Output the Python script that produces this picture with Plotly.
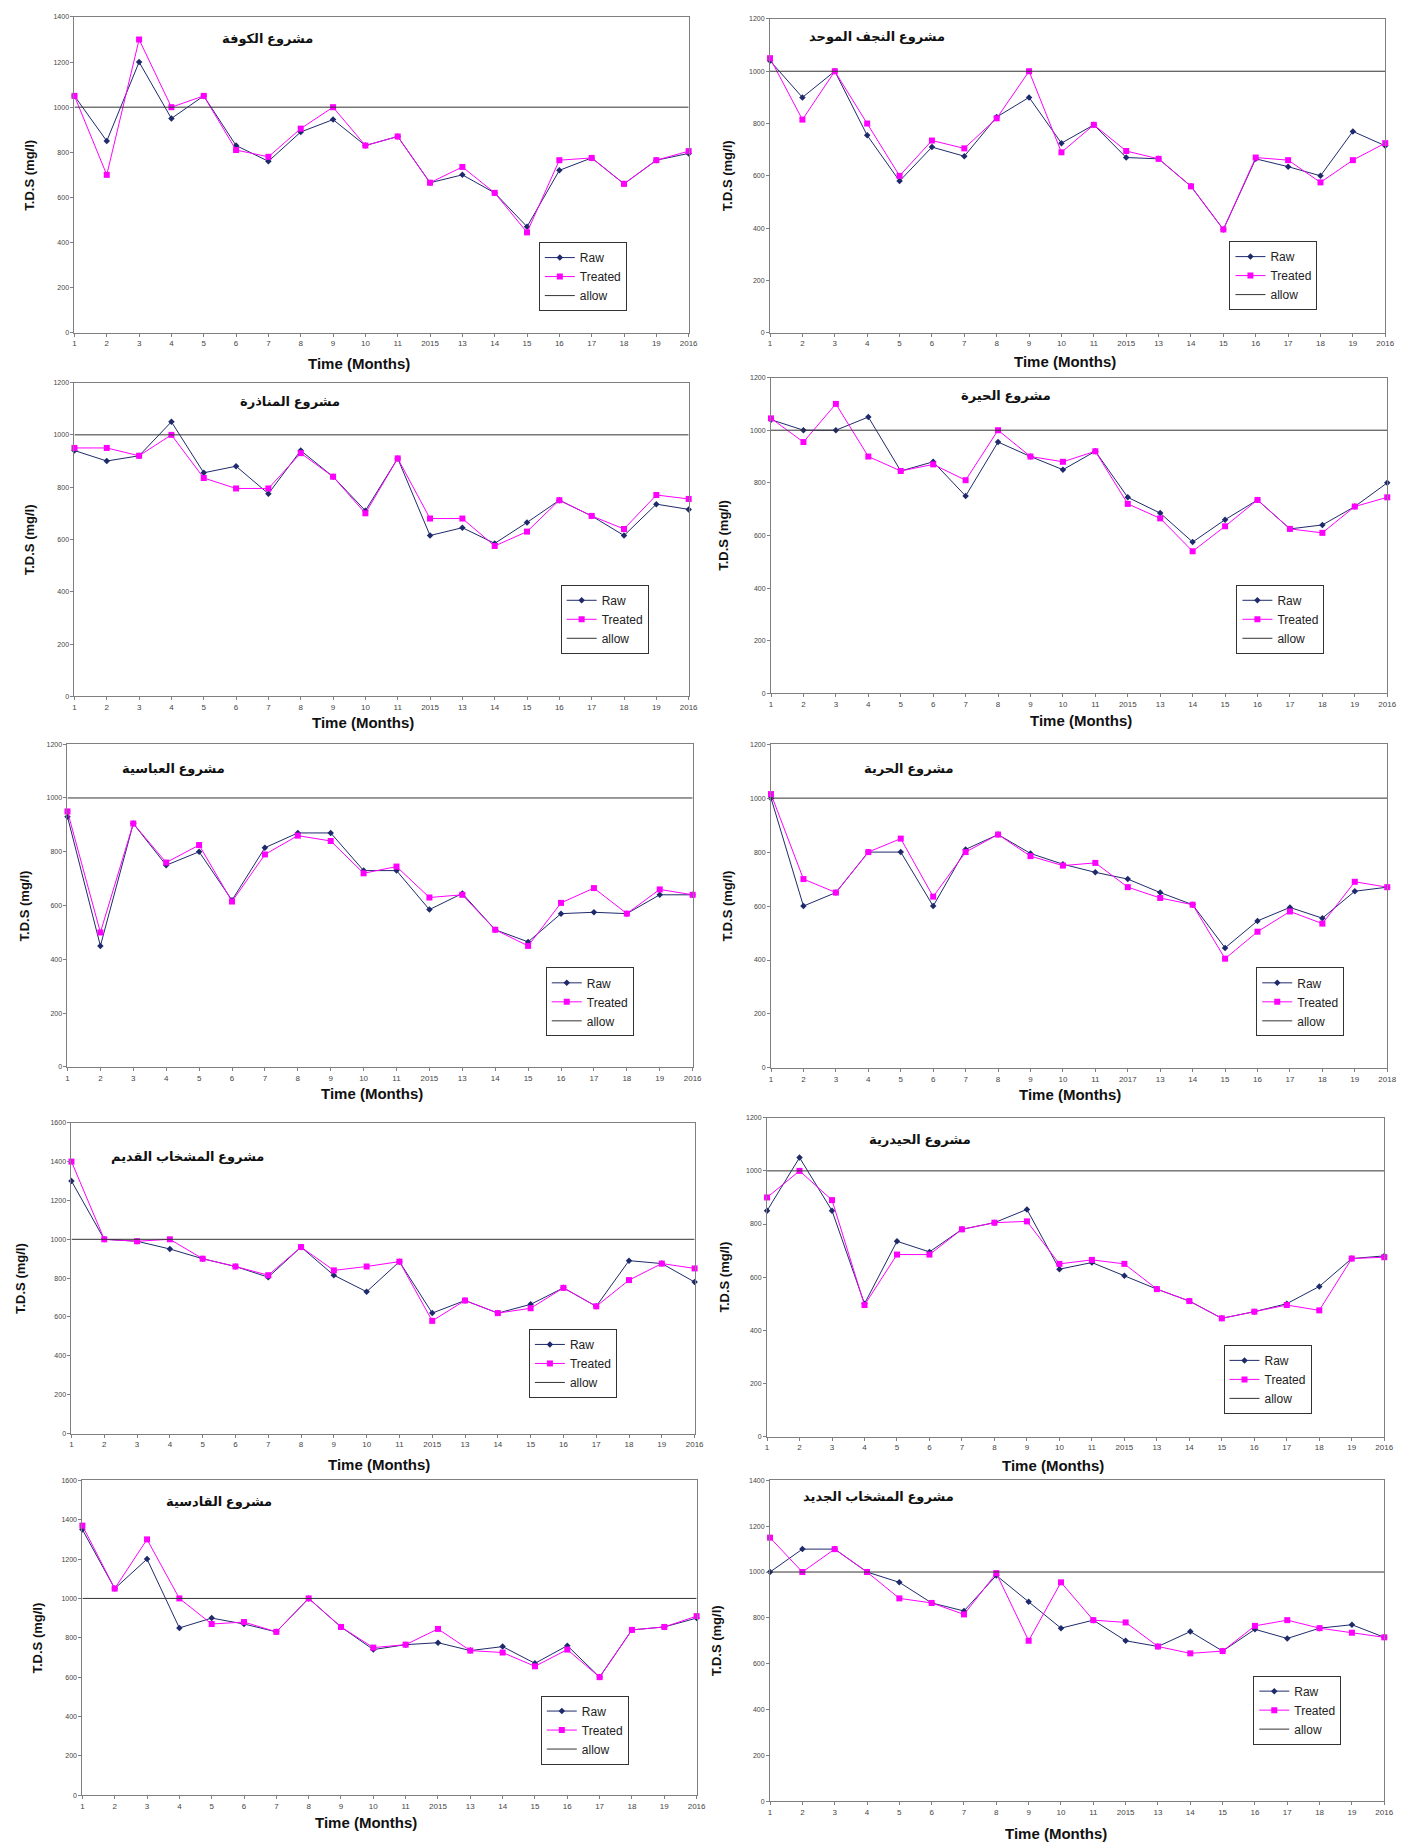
import plotly.graph_objects as go

W, H = 1426, 1844

months = list(range(1, 21))
tick_labels = ["1", "2", "3", "4", "5", "6", "7", "8", "9", "10", "11", "2015",
               "13", "14", "15", "16", "17", "18", "19", "2016"]
tick_labels_hurriya = ["1", "2", "3", "4", "5", "6", "7", "8", "9", "10", "11", "2017",
                       "13", "14", "15", "16", "17", "18", "19", "2018"]
allow_limit = 1000

titles = ["مشروع الكوفة", "مشروع النجف الموحد", "مشروع المناذرة", "مشروع الحيرة",
          "مشروع العباسية", "مشروع الحرية", "مشروع المشخاب القديم", "مشروع الحيدرية",
          "مشروع القادسية", "مشروع المشخاب الجديد"]

kufa_raw = [1050, 850, 1200, 950, 1050, 830, 760, 890, 945, 830, 870, 665, 700, 620, 470, 720, 775, 660, 765, 795]
kufa_treated = [1050, 700, 1300, 1000, 1050, 810, 780, 905, 1000, 830, 870, 665, 735, 620, 445, 765, 775, 660, 765, 805]

najaf_raw = [1040, 900, 1000, 755, 580, 710, 675, 825, 900, 725, 795, 670, 665, 560, 395, 665, 635, 600, 770, 715]
najaf_treated = [1050, 815, 1000, 800, 600, 735, 705, 820, 1000, 690, 795, 695, 665, 560, 395, 670, 660, 575, 660, 725]

manathira_raw = [940, 900, 920, 1050, 855, 880, 775, 940, 840, 710, 910, 615, 645, 585, 665, 750, 690, 615, 735, 715]
manathira_treated = [950, 950, 920, 1000, 835, 795, 795, 930, 840, 700, 910, 680, 680, 575, 630, 750, 690, 640, 770, 755]

hira_raw = [1040, 1000, 1000, 1050, 845, 880, 750, 955, 900, 850, 920, 745, 685, 575, 660, 735, 625, 640, 710, 800]
hira_treated = [1045, 955, 1100, 900, 845, 870, 810, 1000, 900, 880, 920, 720, 665, 540, 635, 735, 625, 610, 710, 745]

abbasiya_raw = [930, 450, 905, 750, 800, 620, 815, 870, 870, 730, 730, 585, 645, 510, 465, 570, 575, 570, 640, 640]
abbasiya_treated = [950, 500, 905, 760, 825, 615, 790, 860, 840, 720, 745, 630, 640, 510, 450, 610, 665, 570, 660, 640]

hurriya_raw = [1000, 600, 650, 800, 800, 600, 810, 865, 795, 755, 725, 700, 650, 605, 445, 545, 595, 555, 655, 670]
hurriya_treated = [1015, 700, 650, 800, 850, 635, 800, 865, 785, 750, 760, 670, 630, 605, 405, 505, 580, 535, 690, 670]

old_mishkhab_raw = [1300, 1000, 990, 950, 900, 860, 805, 960, 815, 730, 885, 620, 685, 620, 665, 750, 655, 890, 875, 780]
old_mishkhab_treated = [1400, 1000, 990, 1000, 900, 860, 815, 960, 840, 860, 885, 580, 685, 620, 645, 750, 655, 790, 875, 850]

haidariya_raw = [850, 1050, 850, 500, 735, 695, 780, 805, 855, 630, 655, 605, 555, 510, 445, 470, 500, 565, 670, 680]
haidariya_treated = [900, 1000, 890, 495, 685, 685, 780, 805, 810, 650, 665, 650, 555, 510, 445, 470, 495, 475, 670, 675]

qadisiya_raw = [1350, 1050, 1200, 850, 900, 870, 830, 1000, 855, 740, 765, 775, 735, 755, 670, 760, 600, 840, 855, 900]
qadisiya_treated = [1370, 1050, 1300, 1000, 870, 880, 830, 1000, 855, 750, 765, 845, 735, 725, 655, 740, 600, 840, 855, 910]

new_mishkhab_raw = [1000, 1100, 1100, 1000, 955, 865, 830, 985, 870, 755, 790, 700, 675, 740, 655, 750, 710, 755, 770, 715]
new_mishkhab_treated = [1150, 1000, 1100, 1000, 885, 865, 815, 995, 700, 955, 790, 780, 675, 645, 655, 765, 790, 755, 735, 715]

y_max = [1400, 1200, 1200, 1200, 1200, 1200, 1600, 1200, 1600, 1400]

series = [
    (kufa_raw, kufa_treated, tick_labels),
    (najaf_raw, najaf_treated, tick_labels),
    (manathira_raw, manathira_treated, tick_labels),
    (hira_raw, hira_treated, tick_labels),
    (abbasiya_raw, abbasiya_treated, tick_labels),
    (hurriya_raw, hurriya_treated, tick_labels_hurriya),
    (old_mishkhab_raw, old_mishkhab_treated, tick_labels),
    (haidariya_raw, haidariya_treated, tick_labels),
    (qadisiya_raw, qadisiya_treated, tick_labels),
    (new_mishkhab_raw, new_mishkhab_treated, tick_labels),
]

# layout (pixel boxes: left, top, right, bottom)
boxes = [
    (73, 13, 692, 330), (774, 15, 1394, 330),
    (73, 380, 692, 695), (775, 375, 1396, 692),
    (66, 743, 696, 1067), (775, 743, 1396, 1068),
    (70, 1123, 698, 1435), (771, 1118, 1393, 1438),
    (81, 1482, 700, 1798), (774, 1482, 1393, 1804),
]
title_pos = [(268, 35), (882, 33), (290, 399), (1012, 393), (173, 767),
             (914, 767), (187, 1157), (925, 1140), (219, 1503), (883, 1498)]
legend_pos = [(541, 239), (1237, 238), (563, 583), (1244, 583), (548, 967),
              (1264, 967), (531, 1330), (1231, 1346), (543, 1698), (1261, 1678)]
ytitle_x = [28, 731, 28, 727, 23, 731, 18, 728, 36, 720]
xtitle_pos = [(360, 361), (1071, 359), (364, 721), (1087, 719), (373, 1094),
              (1076, 1095), (380, 1466), (1059, 1467), (367, 1825), (1062, 1836)]

RAW_C = "#1F2A6B"
TRE_C = "#FF00FF"
FONT = "Arial, Liberation Sans, DejaVu Sans, sans-serif"

fig = go.Figure()
annotations = []
layout_axes = {}

for i, (raw, treated, ticks) in enumerate(series):
    s = "" if i == 0 else str(i + 1)
    xa, ya = "x" + s, "y" + s
    lg = "legend" + s
    fig.add_trace(go.Scatter(x=months, y=raw, name="Raw", mode="lines+markers",
                             line=dict(color=RAW_C, width=1),
                             marker=dict(symbol="diamond", size=5, color=RAW_C),
                             xaxis=xa, yaxis=ya, legend=lg, cliponaxis=False))
    fig.add_trace(go.Scatter(x=months, y=treated, name="Treated", mode="lines+markers",
                             line=dict(color=TRE_C, width=1),
                             marker=dict(symbol="square", size=6, color=TRE_C),
                             xaxis=xa, yaxis=ya, legend=lg, cliponaxis=False))
    fig.add_trace(go.Scatter(x=months, y=[allow_limit] * len(months), name="allow",
                             mode="lines", line=dict(color="#333333", width=1),
                             xaxis=xa, yaxis=ya, legend=lg))
    l, t, r, b = boxes[i]
    layout_axes["xaxis" + s] = dict(
        domain=[l / W, r / W], range=[1, 20], anchor=ya,
        tickmode="array", tickvals=months, ticktext=ticks,
        showline=True, mirror=True, linecolor="#7F7F7F", linewidth=1,
        ticks="outside", ticklen=3, tickcolor="#7F7F7F",
        showgrid=False, zeroline=False,
        tickfont=dict(size=8, color="#444444", family=FONT))
    layout_axes["yaxis" + s] = dict(
        domain=[1 - b / H, 1 - t / H], range=[0, y_max[i]], anchor=xa,
        dtick=200, tick0=0,
        showline=True, mirror=True, linecolor="#7F7F7F", linewidth=1,
        ticks="outside", ticklen=3, tickcolor="#7F7F7F",
        showgrid=False, zeroline=False,
        tickfont=dict(size=7, color="#444444", family=FONT))
    lx, ly = legend_pos[i]
    layout_axes[lg] = dict(
        x=lx / W, y=1 - ly / H, xanchor="left", yanchor="top",
        xref="paper", yref="paper",
        bordercolor="#333333", borderwidth=1, bgcolor="white",
        font=dict(size=12, family=FONT, color="#222222"),
        tracegroupgap=0, itemwidth=30)
    tx, ty = title_pos[i]
    annotations.append(dict(text="<b>" + titles[i] + "</b>", x=tx / W, y=1 - ty / H,
                            xref="paper", yref="paper", showarrow=False,
                            xanchor="center", yanchor="middle",
                            font=dict(size=13, family=FONT, color="#111111")))
    annotations.append(dict(text="<b>T.D.S (mg/l)</b>", x=ytitle_x[i] / W,
                            y=1 - ((t + b) / 2) / H, xref="paper", yref="paper",
                            showarrow=False, textangle=-90,
                            xanchor="center", yanchor="middle",
                            font=dict(size=13, family=FONT, color="#111111")))
    xx, xy = xtitle_pos[i]
    annotations.append(dict(text="<b>Time (Months)</b>", x=xx / W, y=1 - xy / H,
                            xref="paper", yref="paper", showarrow=False,
                            xanchor="center", yanchor="middle",
                            font=dict(size=15, family=FONT, color="#111111")))

fig.update_layout(
    width=W, height=H, autosize=False,
    margin=dict(l=0, r=0, t=0, b=0),
    paper_bgcolor="white", plot_bgcolor="white",
    annotations=annotations,
    **layout_axes,
)

fig.write_html("out.html")
